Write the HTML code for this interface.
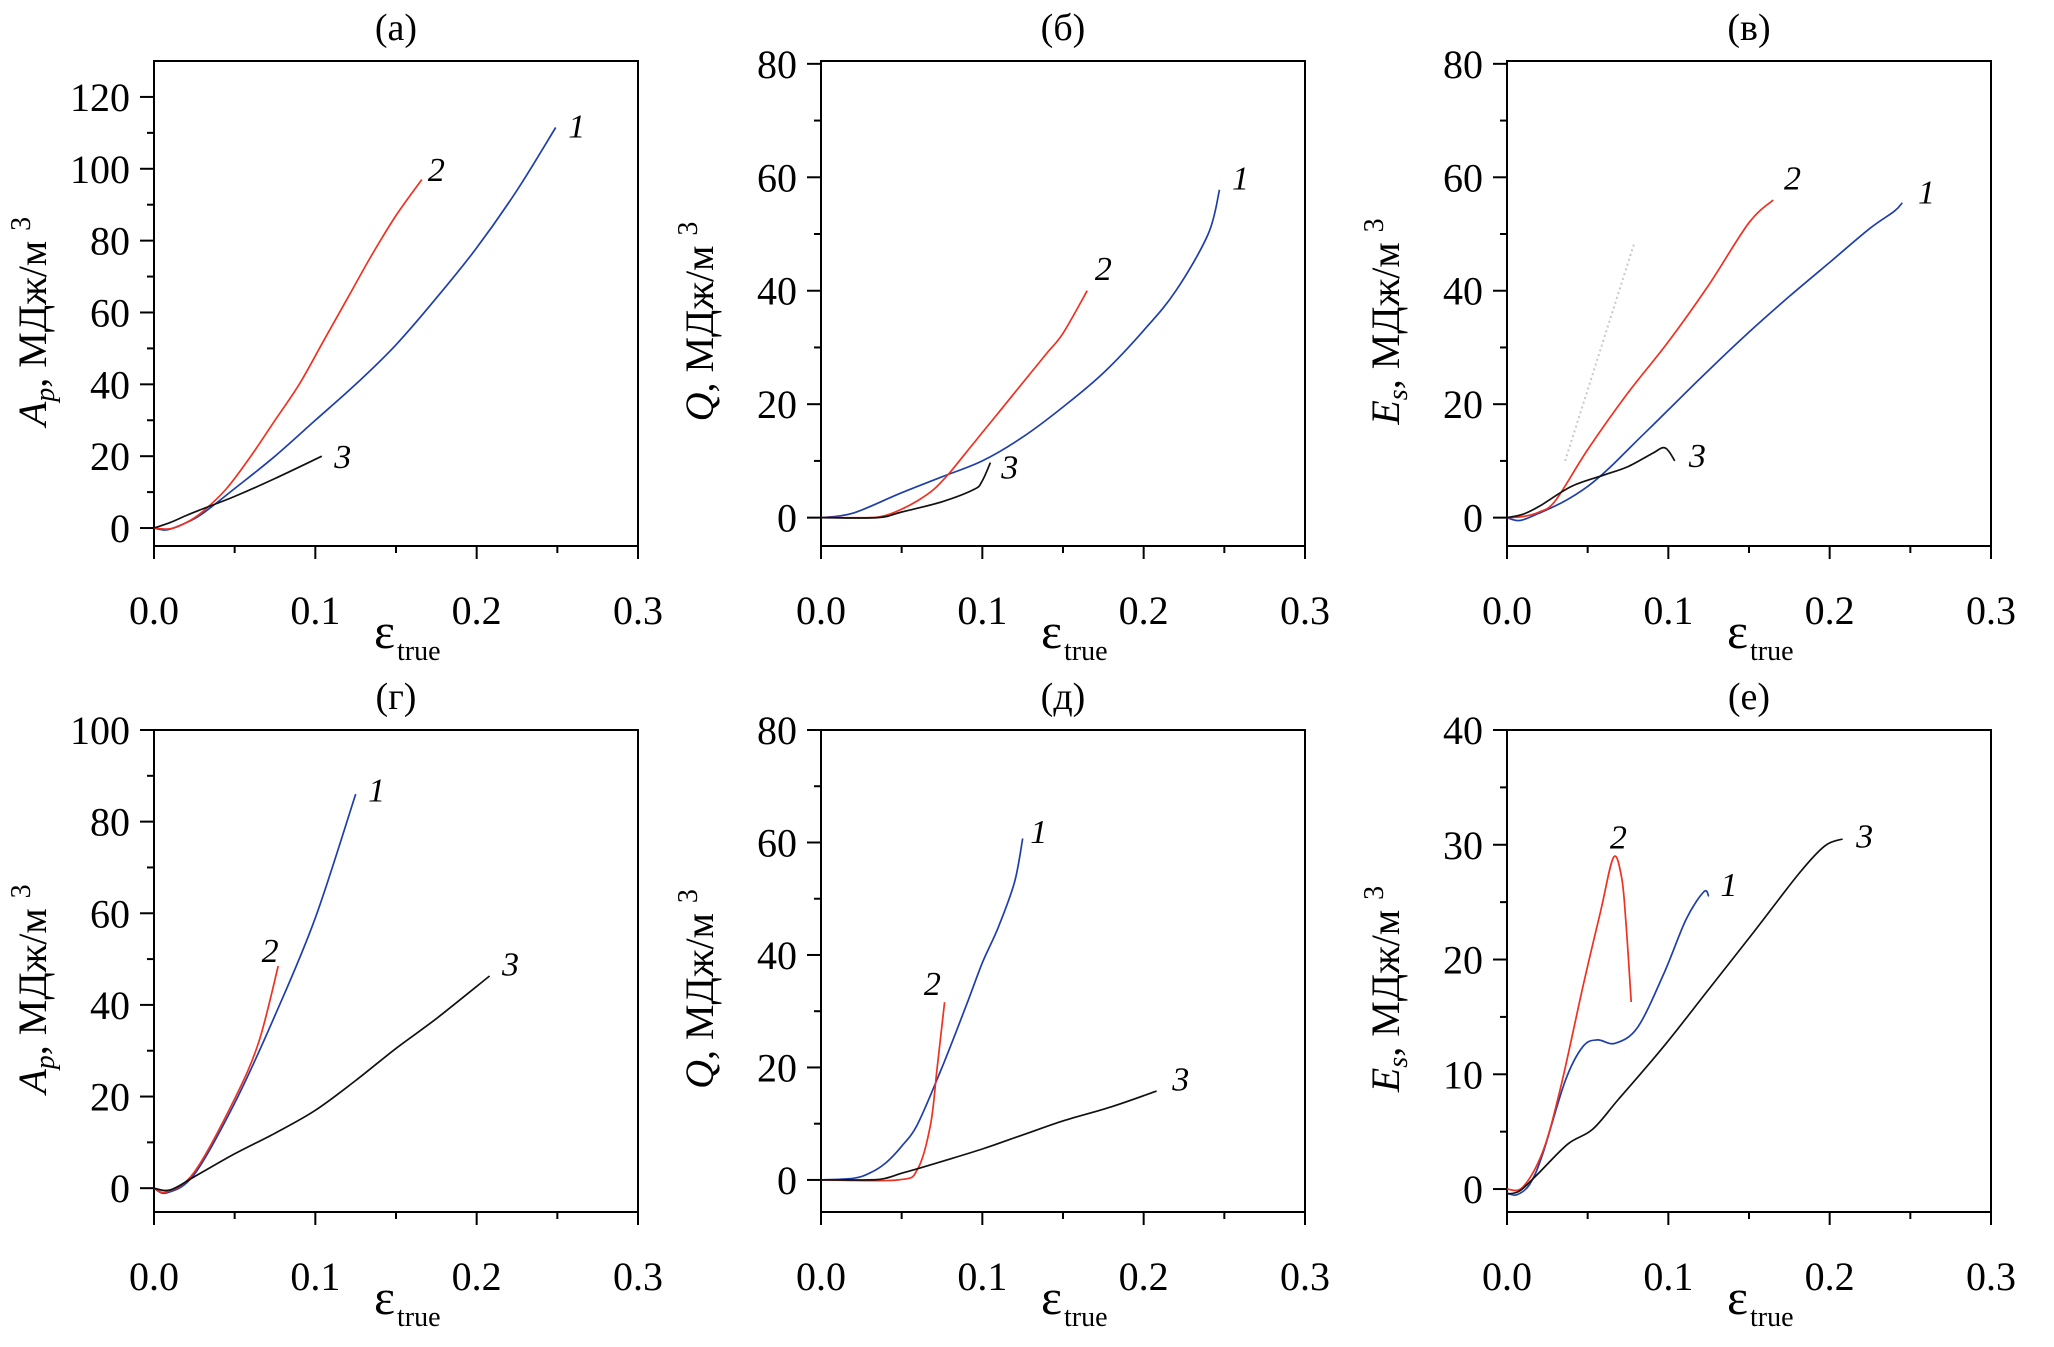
<!DOCTYPE html>
<html><head><meta charset="utf-8">
<style>
html,body{margin:0;padding:0;background:#fff;}
svg{display:block;font-family:"Liberation Serif","DejaVu Serif",serif;}
</style></head>
<body>
<svg id="fig" width="2054" height="1347" viewBox="0 0 2054 1347" xmlns="http://www.w3.org/2000/svg" font-family="Liberation Serif, DejaVu Serif, serif"></svg>
<script>
// ---- data (x = true strain, y = energy density MJ/m3) ----
const xTicks = [0.0, 0.1, 0.2, 0.3];
const xTickLabels = ["0.0", "0.1", "0.2", "0.3"];
const panelTitles = ["(а)", "(б)", "(в)", "(г)", "(д)", "(е)"];
const yTicksA = [0, 20, 40, 60, 80, 100, 120];
const yTicksB = [0, 20, 40, 60, 80];
const yTicksE = [0, 10, 20, 30, 40];
const yTicksG = [0, 20, 40, 60, 80, 100];

// panel a (A_p)
const a1x = [0, 0.008, 0.02, 0.03, 0.05, 0.075, 0.1, 0.125, 0.15, 0.175, 0.2, 0.225, 0.249];
const a1y = [0, -0.5, 1.5, 4, 11, 20, 30, 40, 51, 64, 78, 94, 111.5];
const a2x = [0, 0.01, 0.02, 0.03, 0.045, 0.06, 0.075, 0.09, 0.105, 0.12, 0.135, 0.15, 0.166];
const a2y = [0, -0.2, 1.5, 4.5, 11, 20, 30, 40, 52, 64, 76, 87, 97];
const a3x = [0, 0.01, 0.02, 0.03, 0.05, 0.075, 0.104];
const a3y = [0, 1.5, 3.5, 5.3, 8.8, 13.8, 20];
// panel b (Q)
const b1x = [0, 0.02, 0.05, 0.075, 0.1, 0.125, 0.15, 0.175, 0.2, 0.22, 0.24, 0.247];
const b1y = [0, 0.8, 4.4, 7.2, 10, 14.2, 19.5, 25.5, 33, 40, 50, 57.8];
const b2x = [0, 0.03, 0.04, 0.05, 0.06, 0.07, 0.08, 0.09, 0.1, 0.11, 0.12, 0.13, 0.14, 0.15, 0.165];
const b2y = [0, 0, 0.4, 1.5, 3, 5, 8, 11.5, 15, 18.5, 22, 25.5, 29, 32.5, 40];
const b3x = [0, 0.035, 0.05, 0.075, 0.095, 0.1, 0.105];
const b3y = [0, 0, 1, 2.8, 5, 6.5, 9.7];
// panel c (E_s)
const c1x = [0, 0.008, 0.02, 0.035, 0.05, 0.0625, 0.075, 0.0875, 0.1, 0.125, 0.15, 0.175, 0.2, 0.225, 0.24, 0.245];
const c1y = [0, -0.5, 0.8, 2.8, 5.5, 8.5, 12, 15.5, 19, 26, 32.7, 39, 45, 51, 54, 55.5];
const c2x = [0, 0.01, 0.02, 0.03, 0.05, 0.075, 0.1, 0.125, 0.15, 0.165];
const c2y = [0, 0.2, 1, 3, 12, 22, 31, 41, 52, 56];
const c3x = [0, 0.01, 0.02, 0.04, 0.06, 0.075, 0.09, 0.098, 0.104];
const c3y = [0, 0.6, 2, 5.5, 7.5, 9, 11.3, 12.3, 10];
const c4x = [0.036, 0.079];
const c4y = [10, 48.5];
// panel g (A_p)
const g1x = [0, 0.008, 0.025, 0.05, 0.075, 0.1, 0.125];
const g1y = [0, -1, 3, 18.6, 37.7, 59, 86];
const g2x = [0, 0.008, 0.025, 0.05, 0.065, 0.077];
const g2y = [0, -0.8, 3.5, 19.5, 32, 48.5];
const g3x = [0, 0.01, 0.025, 0.05, 0.075, 0.1, 0.125, 0.15, 0.175, 0.208];
const g3y = [0, -0.4, 2.5, 7.5, 12, 17, 23.5, 30.5, 37, 46.3];
// panel d (Q)
const d1x = [0, 0.02, 0.03, 0.04, 0.05, 0.06, 0.075, 0.09, 0.1, 0.11, 0.12, 0.125];
const d1y = [0, 0.3, 1.2, 3, 6, 10, 20, 31, 38.6, 45, 53, 60.7];
const d2x = [0, 0.048, 0.06, 0.068, 0.072, 0.0766];
const d2y = [0, 0, 2, 10, 20, 31.6];
const d3x = [0, 0.03, 0.04, 0.05, 0.06, 0.075, 0.1, 0.125, 0.15, 0.18, 0.208];
const d3y = [0, 0, 0.3, 1.2, 2, 3.3, 5.5, 8, 10.5, 13, 15.8];
// panel e (E_s)
const e1x = [0, 0.006, 0.014, 0.022, 0.036, 0.047, 0.056, 0.067, 0.081, 0.097, 0.111, 0.122, 0.125];
const e1y = [-0.33, -0.5, 0.4, 3, 9.4, 12.4, 13, 12.7, 14.1, 18.7, 23.5, 25.9, 25.5];
const e2x = [0, 0.0097, 0.022, 0.033, 0.047, 0.058, 0.066, 0.071, 0.0736, 0.077];
const e2y = [0, 0.15, 3.2, 8.7, 17.6, 24.2, 28.9, 27.2, 23.5, 16.3];
const e3x = [0, 0.008, 0.019, 0.0375, 0.053, 0.069, 0.097, 0.125, 0.153, 0.181, 0.197, 0.208];
const e3y = [-0.44, -0.15, 1.3, 3.9, 5.2, 7.8, 12.4, 17.4, 22.4, 27.5, 29.9, 30.5];

const svg = document.getElementById('fig');
const NS = 'http://www.w3.org/2000/svg';
function mk(tag, attrs, parent) {
  const e = document.createElementNS(NS, tag);
  for (const k in attrs) e.setAttribute(k, attrs[k]);
  (parent || svg).appendChild(e);
  return e;
}
function smoothPath(pts) {
  if (pts.length < 3) return 'M' + pts.map(p => p[0].toFixed(1) + ',' + p[1].toFixed(1)).join(' L');
  let d = 'M' + pts[0][0].toFixed(1) + ',' + pts[0][1].toFixed(1);
  for (let i = 0; i < pts.length - 1; i++) {
    const p0 = pts[Math.max(0, i - 1)], p1 = pts[i], p2 = pts[i + 1], p3 = pts[Math.min(pts.length - 1, i + 2)];
    const t = 1 / 6;
    const c1 = [p1[0] + (p2[0] - p0[0]) * t, p1[1] + (p2[1] - p0[1]) * t];
    const c2 = [p2[0] - (p3[0] - p1[0]) * t, p2[1] - (p3[1] - p1[1]) * t];
    d += ' C' + c1.map(v => v.toFixed(1)).join(',') + ' ' + c2.map(v => v.toFixed(1)).join(',') + ' ' + p2[0].toFixed(1) + ',' + p2[1].toFixed(1);
  }
  return d;
}

const BLUE = '#1f3fa8', RED = '#f03020', BLACK = '#111';
const panels = [
  {id:'a', L:154, T:61, B:546, ymin:-5, ymax:130, yt:yTicksA, minor:10, ylab:['A','p'], series:[[a1x,a1y,BLUE,'1',0.262,112],[a2x,a2y,RED,'2',0.175,100],[a3x,a3y,BLACK,'3',0.117,20]]},
  {id:'b', L:821, T:61, B:546, ymin:-5, ymax:80.5, yt:yTicksB, minor:10, ylab:['Q',''], series:[[b1x,b1y,BLUE,'1',0.26,60],[b2x,b2y,RED,'2',0.175,44],[b3x,b3y,BLACK,'3',0.117,9]]},
  {id:'c', L:1507, T:61, B:546, ymin:-5, ymax:80.5, yt:yTicksB, minor:10, ylab:['E','s'], series:[[c4x,c4y,'#c8c8c8','',0,0,true],[c1x,c1y,BLUE,'1',0.26,57.5],[c2x,c2y,RED,'2',0.177,60],[c3x,c3y,BLACK,'3',0.118,11]]},
  {id:'g', L:154, T:730, B:1212, ymin:-5.2, ymax:100, yt:yTicksG, minor:10, ylab:['A','p'], series:[[g1x,g1y,BLUE,'1',0.138,87],[g2x,g2y,RED,'2',0.072,52],[g3x,g3y,BLACK,'3',0.221,49]]},
  {id:'d', L:821, T:730, B:1212, ymin:-5.7, ymax:80, yt:yTicksB, minor:10, ylab:['Q',''], series:[[d1x,d1y,BLUE,'1',0.135,62],[d2x,d2y,RED,'2',0.069,35],[d3x,d3y,BLACK,'3',0.223,18]]},
  {id:'e', L:1507, T:730, B:1212, ymin:-2, ymax:40, yt:yTicksE, minor:5, ylab:['E','s'], series:[[e1x,e1y,BLUE,'1',0.1375,26.6],[e2x,e2y,RED,'2',0.069,30.7],[e3x,e3y,BLACK,'3',0.2217,30.8]]}
];
const W = 484;

panels.forEach((p, pi) => {
  const g = mk('g', {});
  
  
  const xs = v => p.L + v / 0.3 * W;
  const ys = v => p.B - (v - p.ymin) / (p.ymax - p.ymin) * (p.B - p.T);

  const title = mk('text', {x: p.L + W / 2, y: p.T - 21, 'font-size': 38, 'text-anchor': 'middle'}, g);
  title.textContent = panelTitles[pi];
  
  

  const frame = mk('rect', {x: p.L, y: p.T, width: W, height: p.B - p.T, fill: 'none', stroke: '#000', 'stroke-width': 2}, g);
  
  

  for (let k = 0; k <= 6; k++) {
    const v = k * 0.05, X = xs(v), major = k % 2 === 0;
    const t = mk('line', {x1: X, y1: p.B, x2: X, y2: p.B + (major ? 13 : 7), stroke: '#000', 'stroke-width': 2}, g);
    
    
  }
  xTicks.forEach((v, i) => {
    const t = mk('text', {x: xs(v), y: p.B + 78, 'font-size': 40, 'text-anchor': 'middle'}, g);
    t.textContent = xTickLabels[i];
    
    
  });
  for (let v = p.yt[0]; v <= p.yt[p.yt.length - 1] + 1e-9; v += p.minor) {
    const Y = ys(v), major = Math.abs(v / (p.minor * 2) - Math.round(v / (p.minor * 2))) < 1e-6;
    const t = mk('line', {x1: p.L - (major ? 14 : 7), y1: Y, x2: p.L, y2: Y, stroke: '#000', 'stroke-width': 2}, g);
    
    
  }
  p.yt.forEach(v => {
    const t = mk('text', {x: p.L - 24, y: ys(v) + 14, 'font-size': 40, 'text-anchor': 'end'}, g);
    t.textContent = String(v);
    
    
  });
  const xt = mk('text', {x: p.L + W / 2 - 22, y: p.B + 102, 'font-size': 50}, g);
  
  
  const eps = mk('tspan', {}, xt); eps.textContent = 'ε';
  const sub = mk('tspan', {'font-size': 28, dy: 12, dx: 2}, xt); sub.textContent = 'true';
  const cy = (p.T + p.B) / 2 + 18, cx = p.L - 108;
  const yt = mk('text', {x: 0, y: 0, 'font-size': 40, 'text-anchor': 'middle', transform: 'translate(' + cx + ',' + cy + ') rotate(-90)'}, g);
  
  
  const s1 = mk('tspan', {'font-style': 'italic'}, yt); s1.textContent = p.ylab[0];
  if (p.ylab[1]) { const s2 = mk('tspan', {'font-style': 'italic', 'font-size': 28, dy: 8}, yt); s2.textContent = p.ylab[1]; }
  const s3 = mk('tspan', {dy: p.ylab[1] ? -8 : 0}, yt); s3.textContent = ', МДж/м ';
  const s4 = mk('tspan', {'font-size': 28, dy: -16}, yt); s4.textContent = '3';

  p.series.forEach(s => {
    const [sx, sy, col, lab, lx, ly, dotted] = s;
    const pts = sx.map((v, i) => [xs(v), ys(sy[i])]);
    const path = mk('path', {d: smoothPath(pts), fill: 'none', stroke: col, 'stroke-width': dotted ? 2 : 1.7, 'stroke-dasharray': dotted ? '2 3' : 'none'}, g);
    
    
    if (lab) {
      const t = mk('text', {x: xs(lx), y: ys(ly) + 12, 'font-size': 34, 'font-style': 'italic', 'text-anchor': 'middle'}, g);
      t.textContent = lab;
      
      
    }
  });
});
</script>
</body></html>
